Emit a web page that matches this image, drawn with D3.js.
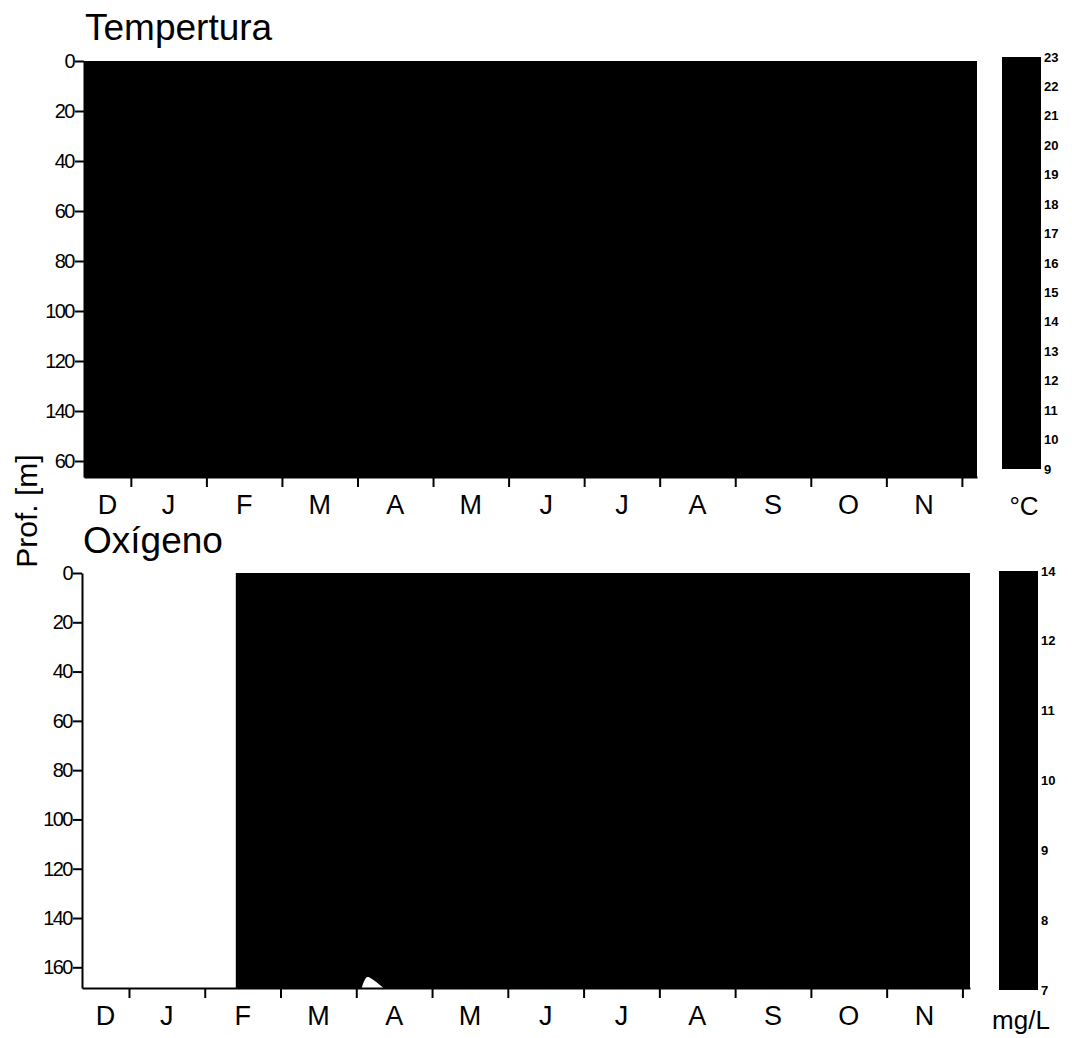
<!DOCTYPE html>
<html>
<head>
<meta charset="utf-8">
<script src="https://cdn.jsdelivr.net/npm/d3@7"></script>
<style>
  body { margin: 0; background: #fff; }
  svg { display: block; font-family: "Liberation Sans", Arial, sans-serif; }
</style>
</head>
<body>
<div id="chart"></div>
<script>
var svgWidth = 1072;
var svgHeight = 1038;

// month labels and the month boundaries (1 = 1 Jan ... 12 = 1 Dec, counted from 1 Dec)
var months = ["D", "J", "F", "M", "A", "M", "J", "J", "A", "S", "O", "N"];
var monthBounds = [1, 2, 3, 4, 5, 6, 7, 8, 9, 10, 11, 12];

var depthTicks = [0, 20, 40, 60, 80, 100, 120, 140, 160];
var tempDepthLabels = ["0", "20", "40", "60", "80", "100", "120", "140", "60"];
var oxyDepthLabels = ["0", "20", "40", "60", "80", "100", "120", "140", "160"];

// sampled extent of each series: [first month, last month] and [surface, max depth]
var tempSpan = [0.38, 12.2];
var tempDepth = [0, 166.4];
var oxySpan = [2.41, 12.1];
var oxyDepth = [0, 168.4];

// small gap in the oxygen field near the bottom in April: [month, depth]
var oxyGap = [[4.07, 168.4], [4.12, 164.0], [4.17, 163.6], [4.36, 168.4]];

// colour-bar labels
var tempLegend = ["23", "22", "21", "20", "19", "18", "17", "16", "15", "14", "13", "12", "11", "10", "9"];
var oxyLegend = ["14", "12", "11", "10", "9", "8", "7"];

var svg = d3.select("#chart")
  .append("svg")
  .attr("width", svgWidth)
  .attr("height", svgHeight);

function drawPanel(opt) {
  var x = d3.scaleLinear().domain(opt.xDomain).range(opt.xRange);
  var y = d3.scaleLinear().domain(opt.yDomain).range(opt.yRange);
  var g = svg.append("g");

  // title
  g.append("text")
    .attr("x", opt.xRange[0] + 1)
    .attr("y", opt.titleY)
    .attr("font-size", 37)
    .text(opt.title);

  // filled field
  g.append("rect")
    .attr("x", x(opt.span[0]))
    .attr("y", y(opt.depth[0]))
    .attr("width", x(opt.span[1]) - x(opt.span[0]))
    .attr("height", y(opt.depth[1]) - y(opt.depth[0]))
    .attr("fill", "#000");

  if (opt.gap) {
    g.append("path")
      .attr("d", d3.line().x(d => x(d[0])).y(d => y(d[1])).curve(d3.curveBasis)(opt.gap) + "Z")
      .attr("fill", "#fff");
  }

  // y axis
  var leftAxis = d3.axisLeft(y)
    .tickValues(depthTicks)
    .tickFormat((d, i) => opt.yLabels[i])
    .tickSize(9)
    .tickSizeOuter(0)
    .tickPadding(1);
  var ya = g.append("g")
    .attr("transform", `translate(${opt.xRange[0]}, 0)`)
    .call(leftAxis);
  ya.selectAll("text")
    .attr("font-size", 20)
    .attr("letter-spacing", -1.5)
    .attr("font-family", null);
  ya.selectAll("line, path").attr("stroke", "#000").attr("stroke-width", 2);

  // x axis
  var bottomAxis = d3.axisBottom(x)
    .tickValues(monthBounds)
    .tickFormat("")
    .tickSize(10)
    .tickSizeOuter(0);
  var xa = g.append("g")
    .attr("transform", `translate(0, ${opt.yRange[1]})`)
    .call(bottomAxis);
  xa.selectAll("line, path").attr("stroke", "#000").attr("stroke-width", 2);

  // month labels centred in each month
  g.append("g")
    .selectAll("text")
    .data(months)
    .enter()
    .append("text")
    .attr("x", (d, i) => i === 0 ? x((opt.xDomain[0] + 1) / 2) : x(i + 0.5))
    .attr("y", opt.yRange[1] + 37)
    .attr("text-anchor", "middle")
    .attr("font-size", 27)
    .text(d => d);

  // colour bar
  var cb = d3.scalePoint().domain(opt.legend).range(opt.barRange);
  g.append("rect")
    .attr("x", opt.barX)
    .attr("y", opt.barRange[0])
    .attr("width", 39)
    .attr("height", opt.barRange[1] - opt.barRange[0])
    .attr("fill", "#000");

  g.append("g")
    .selectAll("text")
    .data(opt.legend)
    .enter()
    .append("text")
    .attr("x", opt.barX + 42)
    .attr("y", d => cb(d))
    .attr("dy", "0.35em")
    .attr("font-size", 13)
    .attr("font-weight", "bold")
    .text(d => d);

  g.append("text")
    .attr("x", opt.barX + 22)
    .attr("y", opt.unitY)
    .attr("text-anchor", "middle")
    .attr("font-size", 26)
    .text(opt.unit);
}

drawPanel({
  title: "Tempertura",
  titleY: 40,
  xDomain: [0.38, 12.2],
  xRange: [84, 977],
  yDomain: tempDepth,
  yRange: [61, 477],
  yLabels: tempDepthLabels,
  span: tempSpan,
  depth: tempDepth,
  legend: tempLegend,
  barX: 1002,
  barRange: [57, 469],
  unit: "\u00b0C",
  unitY: 515
});

drawPanel({
  title: "Oxígeno",
  titleY: 553,
  xDomain: [0.38, 12.1],
  xRange: [82, 970],
  yDomain: oxyDepth,
  yRange: [573, 988],
  yLabels: oxyDepthLabels,
  span: oxySpan,
  depth: oxyDepth,
  gap: oxyGap,
  legend: oxyLegend,
  barX: 999,
  barRange: [571, 990],
  unit: "mg/L",
  unitY: 1029
});

// shared y label
svg.append("text")
  .attr("transform", "translate(37, 511) rotate(-90)")
  .attr("text-anchor", "middle")
  .attr("font-size", 30)
  .text("Prof. [m]");
</script>
</body>
</html>
